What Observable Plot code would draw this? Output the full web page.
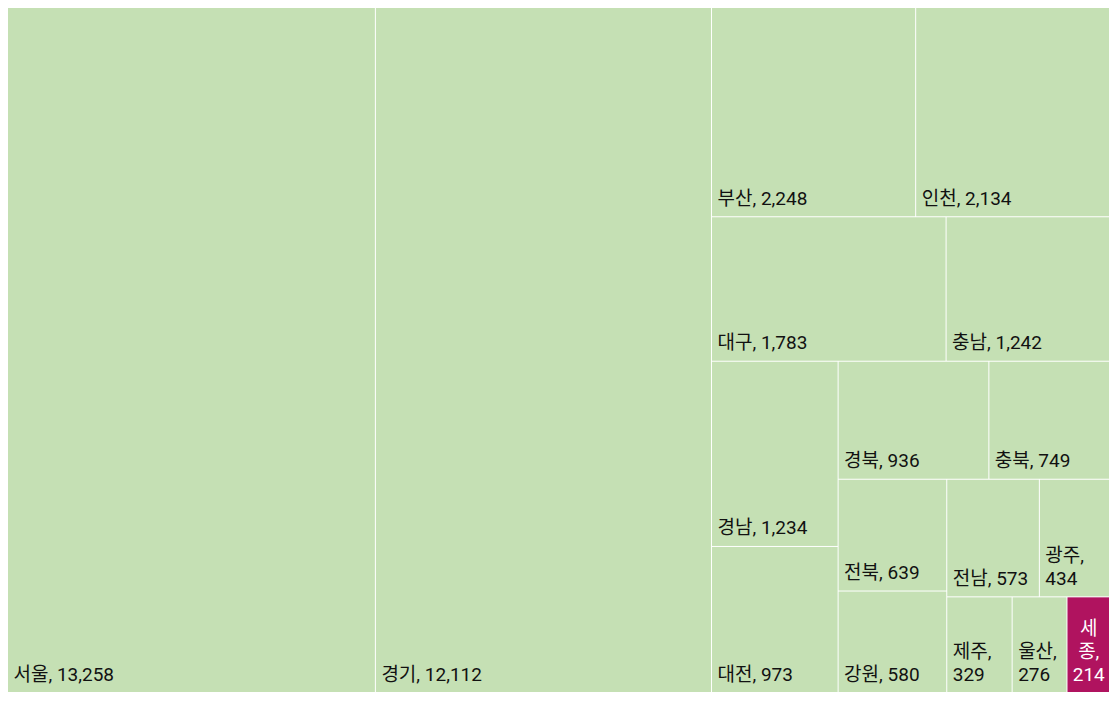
<!DOCTYPE html>
<html>
<head>
<meta charset="utf-8">
<script src="https://cdn.jsdelivr.net/npm/d3@7"></script>
<script src="https://cdn.jsdelivr.net/npm/@observablehq/plot@0.6"></script>
<style>
  body { margin: 8px; background: #fff; }
</style>
</head>
<body>
<div id="chart"></div>
<script>
// Data
const regions = ["서울","경기","부산","인천","대구","충남","경남","대전","경북","충북","전북","강원","전남","광주","제주","울산","세종"];
const counts  = [13258,12112,2248,2134,1783,1242,1234,973,936,749,639,580,573,434,329,276,214];
const highlight = "세종";

const W = 1101, H = 684;
const FONT = "Roboto, 'Noto Sans CJK KR', sans-serif";
const FS = 19;
const FW = 400;
const PAD = 5;

const root = d3.hierarchy({children: regions.map((name, i) => ({name, value: counts[i]}))})
  .sum(d => d.value)
  .sort((a, b) => b.value - a.value);
d3.treemap().tile(d3.treemapSquarify.ratio(1)).size([W, H]).paddingInner(1)(root);

const ctx = document.createElement("canvas").getContext("2d");
ctx.font = `${FW} ${FS}px ${FONT}`;
const mw = s => ctx.measureText(s).width;

function wrap(text, avail) {
  if (mw(text) <= avail) return text;
  const tokens = text.split(" ");
  const lines = [];
  let cur = "";
  for (const tok of tokens) {
    if (mw(tok) <= avail) {
      const cand = cur ? cur + " " + tok : tok;
      if (mw(cand) <= avail) cur = cand;
      else { if (cur) lines.push(cur); cur = tok; }
    } else {
      if (cur) { lines.push(cur); cur = ""; }
      for (const ch of tok) {
        const cand = cur + ch;
        if (cur && mw(cand) > avail) { lines.push(cur); cur = ch; }
        else cur = cand;
      }
    }
  }
  if (cur) lines.push(cur);
  return lines.join("\n");
}

const fmt = d3.format(",");
const cells = root.leaves().map(d => {
  const label = `${d.data.name}, ${fmt(d.value)}`;
  return {
    name: d.data.name, value: d.value,
    x0: d.x0, x1: d.x1, y0: d.y0, y1: d.y1,
    label: wrap(label, d.x1 - d.x0 - 8)
  };
});

const chart = Plot.plot({
  width: W,
  height: H,
  margin: 0,
  style: {fontFamily: FONT, background: "#fff"},
  x: {domain: [0, W], range: [0, W], axis: null},
  y: {domain: [0, H], range: [0, H], axis: null},
  marks: [
    Plot.rect(cells, {
      x1: "x0", x2: "x1", y1: "y0", y2: "y1",
      fill: d => d.name === highlight ? "#b0135f" : "#c5e0b4"
    }),
    Plot.text(cells.filter(d => d.name !== highlight), {
      x: "x0", y: "y1", text: "label",
      textAnchor: "start", lineAnchor: "bottom",
      dx: PAD, dy: -12, fontSize: FS, fontWeight: FW, lineHeight: 1.2, fill: "#111"
    }),
    Plot.text(cells.filter(d => d.name === highlight), {
      x: d => (d.x0 + d.x1) / 2, y: "y1", text: "label",
      textAnchor: "middle", lineAnchor: "bottom",
      dy: -12, fontSize: FS, fontWeight: FW, lineHeight: 1.2, fill: "#fff"
    })
  ]
});
document.getElementById("chart").appendChild(chart);
</script>
</body>
</html>
